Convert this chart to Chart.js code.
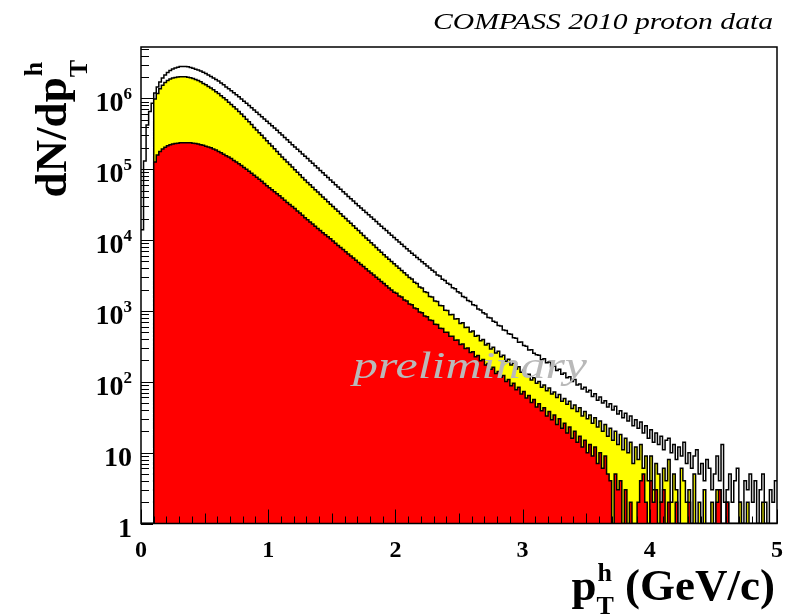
<!DOCTYPE html>
<html>
<head>
<meta charset="utf-8">
<script src="https://cdn.jsdelivr.net/npm/chart.js@4.4.0/dist/chart.umd.min.js"></script>
<style>
  html, body { margin: 0; padding: 0; background: #fff; }
</style>
</head>
<body>
<canvas id="chartPt" width="787" height="614"></canvas>
<script>
// pT spectrum, 250 bins of 0.02 GeV/c from 0 to 5
const bin_width = 0.02;
const x_min = 0, x_max = 5;
const y_min = 1, y_max = 5.3e6;

// all hadrons (open histogram)
const counts_all = [
    14000, 130000, 420000, 650000, 850000, 1.19e6, 1.45e6, 1.70e6, 1.93e6, 2.14e6,
    2.32e6, 2.47e6, 2.59e6, 2.68e6, 2.75e6, 2.81e6, 2.82e6, 2.81e6, 2.78e6, 2.72e6,
    2.65e6, 2.58e6, 2.51e6, 2.43e6, 2.33e6, 2.24e6, 2.14e6, 2.04e6, 1.94e6, 1.85e6,
    1.75e6, 1.65e6, 1.55e6, 1.45e6, 1.36e6, 1.28e6, 1.20e6, 1.12e6, 1.05e6, 977000,
    912000, 851000, 794000, 738000, 685000, 637000, 592000, 550000, 511000, 474000,
    441000, 409000, 380000, 353000, 328000, 304000, 281000, 260000, 240000, 222000,
    206000, 191000, 178000, 164000, 152000, 141000, 130000, 121000, 112000, 104000,
    96200, 89100, 82400, 76200, 70500, 65200, 60400, 56000, 51900, 48100,
    44600, 41300, 38300, 35500, 32900, 30500, 28300, 26300, 24400, 22700,
    21100, 19600, 18200, 16900, 15700, 14600, 13600, 12600, 11700, 10900,
    10100, 9380, 8710, 8090, 7520, 7000, 6530, 6100, 5690, 5310,
    4950, 4620, 4320, 4030, 3760, 3550, 3220, 3100, 2800, 2690,
    2460, 2360, 2120, 2050, 1860, 1790, 1600, 1550, 1400, 1360,
    1220, 1190, 1060, 1030, 940, 905, 810, 795, 712, 690,
    622, 610, 540, 530, 478, 470, 418, 410, 362, 365,
    325, 318, 280, 284, 252, 240, 236, 205, 212, 186,
    190, 162, 166, 144, 150, 128, 133, 114, 118, 101,
    108, 90, 93, 79, 84, 72, 76, 62, 68, 55,
    61, 50, 54, 44, 49, 40, 45, 35, 39, 31,
    36, 28, 33, 24, 29, 22, 27, 19, 24, 16,
    21, 14, 19, 13, 17, 11, 15, 16, 10, 13,
    8, 12, 9, 14, 7, 10, 6, 9, 11, 5,
    7, 4, 8, 6, 3, 5, 9, 4, 13, 2,
    3, 5, 2, 4, 6, 2, 1, 4, 3, 5,
    2, 4, 1, 3, 5, 2, 1, 3, 2, 4
];

// selected sample (yellow)
const counts_yellow = [
    0, 0, 0, 0, 0, 977000, 1.17e6, 1.36e6, 1.53e6, 1.67e6,
    1.79e6, 1.87e6, 1.93e6, 1.97e6, 2.00e6, 2.02e6, 2.02e6, 2.01e6, 1.99e6, 1.95e6,
    1.91e6, 1.84e6, 1.78e6, 1.71e6, 1.62e6, 1.55e6, 1.47e6, 1.40e6, 1.32e6, 1.24e6,
    1.17e6, 1.09e6, 1.02e6, 951000, 883000, 820000, 762000, 708000, 652000, 600000,
    552000, 508000, 468000, 427000, 389000, 356000, 328000, 302000, 275000, 251000,
    230000, 212000, 195000, 178000, 162000, 149000, 137000, 126000, 116000, 107000,
    98200, 90400, 83200, 76600, 70500, 65000, 60100, 55600, 51400, 47500,
    44000, 40600, 37600, 34800, 32100, 29700, 27500, 25400, 23500, 21700,
    20100, 18600, 17200, 15900, 14700, 13600, 12600, 11600, 10700, 9930,
    9180, 8490, 7850, 7260, 6710, 6220, 5780, 5370, 4990, 4630,
    4310, 4000, 3720, 3450, 3210, 2950, 2820, 2530, 2430, 2170,
    2100, 1870, 1820, 1600, 1570, 1380, 1360, 1190, 1180, 1020,
    1010, 880, 890, 770, 775, 665, 680, 585, 590, 505,
    520, 440, 450, 380, 395, 330, 348, 290, 306, 255,
    270, 225, 236, 195, 208, 172, 183, 152, 163, 136,
    145, 120, 128, 106, 114, 95, 101, 84, 90, 75,
    82, 67, 72, 60, 66, 53, 58, 48, 53, 42,
    47, 38, 43, 33, 38, 30, 34, 26, 31, 23,
    28, 20, 25, 17, 22, 15, 20, 13, 18, 11,
    16, 10, 14, 7, 12, 8, 13, 6, 9, 4,
    9, 3, 7, 5, 2, 6, 4, 8, 2, 5,
    3, 1, 6, 4, 2, 3, 0, 5, 1, 2,
    0, 3, 1, 0, 2, 0, 3, 3, 0, 0,
    2, 0, 0, 1, 0, 2, 0, 0, 2, 0,
    0, 1, 0, 0, 2, 0, 0, 0, 0, 0
];

// subsample (red)
const counts_red = [
    0, 0, 0, 0, 0, 126000, 158000, 178000, 193000, 204000,
    214000, 221000, 226000, 230000, 233000, 236000, 237000, 237000, 237000, 236000,
    233000, 230000, 226000, 222000, 217000, 211000, 205000, 200000, 193000, 186000,
    178000, 170000, 162000, 155000, 148000, 141000, 133000, 126000, 119000, 113000,
    106000, 99500, 93300, 87500, 82000, 76900, 72100, 67600, 62800, 58300,
    54500, 51100, 47900, 44900, 42100, 39300, 36500, 33900, 31800, 29800,
    27800, 25800, 24000, 22300, 20700, 19300, 18000, 16800, 15700, 14600,
    13600, 12700, 11900, 11100, 10400, 9660, 9020, 8410, 7850, 7330,
    6840, 6380, 5960, 5560, 5190, 4840, 4520, 4220, 3940, 3670,
    3430, 3200, 2990, 2790, 2600, 2430, 2260, 2110, 1970, 1840,
    1780, 1620, 1570, 1420, 1380, 1250, 1220, 1100, 1070, 962,
    945, 845, 830, 742, 730, 648, 642, 570, 566, 498,
    500, 438, 440, 385, 388, 336, 341, 296, 300, 258,
    266, 226, 234, 198, 206, 172, 181, 150, 160, 131,
    140, 116, 123, 101, 108, 88, 95, 77, 84, 67,
    73, 59, 64, 51, 56, 44, 49, 39, 43, 33,
    38, 29, 34, 25, 30, 22, 26, 19, 23, 16,
    20, 14, 17, 12, 15, 10, 13, 9, 12, 7,
    10, 6, 9, 5, 4, 1, 5, 3, 4, 1,
    3, 1, 2, 1, 0, 2, 4, 5, 2, 1,
    4, 2, 3, 1, 2, 3, 1, 2, 0, 1,
    2, 0, 1, 0, 0, 2, 0, 1, 0, 0,
    0, 0, 1, 0, 0, 0, 2, 3, 0, 0,
    2, 0, 0, 0, 0, 0, 0, 0, 0, 0,
    0, 0, 0, 0, 0, 0, 0, 0, 0, 0
];

const x_tick_labels = ['0', '1', '2', '3', '4', '5'];
const y_tick_values = [1, 10, 1e2, 1e3, 1e4, 1e5, 1e6];
const y_tick_labels = [['1', ''], ['10', ''], ['10', '2'], ['10', '3'], ['10', '4'], ['10', '5'], ['10', '6']];

const serif = '"Liberation Serif", "Times New Roman", serif';

// bin contents -> step points at the left edge of each bin; empty bins sit on the axis floor
function histo_points(counts) {
    const pts = counts.map((v, i) => ({ x: i * bin_width, y: Math.max(v, y_min) }));
    pts.push({ x: x_max, y: Math.max(counts[counts.length - 1], y_min) });
    return pts;
}

function stretched_text(ctx, txt, font, left, base, width) {
    ctx.font = font;
    const w = ctx.measureText(txt).width;
    ctx.save();
    ctx.translate(left, base);
    ctx.scale(width / w, 1);
    ctx.textAlign = 'left';
    ctx.fillText(txt, 0, 0);
    ctx.restore();
}

// "p" with h on top and T below, followed by an optional tail
function pt_symbol(ctx, main, tail, big, small, supShift, subShift) {
    ctx.font = 'bold ' + big + 'px ' + serif;
    const wMain = ctx.measureText(main).width;
    const wTail = ctx.measureText(tail).width;
    ctx.font = 'bold ' + small + 'px ' + serif;
    const wIdx = Math.max(ctx.measureText('h').width, ctx.measureText('T').width);
    const total = wMain + wIdx + wTail;
    let x = -total;
    ctx.textAlign = 'left';
    ctx.font = 'bold ' + big + 'px ' + serif;
    ctx.fillText(main, x, 0);
    x += wMain;
    ctx.font = 'bold ' + small + 'px ' + serif;
    ctx.fillText('h', x + 1, -supShift);
    ctx.fillText('T', x, subShift);
    x += wIdx;
    ctx.font = 'bold ' + big + 'px ' + serif;
    ctx.fillText(tail, x, 0);
}

const frame_and_labels = {
    id: 'frameAndLabels',
    afterDatasetsDraw(chart) {
        const ctx = chart.ctx;
        const xs = chart.scales.x, ys = chart.scales.y;
        const a = chart.chartArea;
        ctx.save();
        ctx.strokeStyle = '#000';
        ctx.fillStyle = '#000';

        // ticks on the x axis (0.1 steps, longer at halves and units)
        ctx.lineWidth = 1;
        ctx.beginPath();
        for (let k = 0; k <= 50; k++) {
            const px = Math.round(xs.getPixelForValue(k / 10)) + 0.5;
            const len = k % 10 === 0 ? 14 : (k % 5 === 0 ? 10 : 7);
            ctx.moveTo(px, a.bottom);
            ctx.lineTo(px, a.bottom - len);
        }
        // ticks on the log y axis
        for (let d = 0; d <= 6; d++) {
            for (let m = 1; m <= 9; m++) {
                const v = m * Math.pow(10, d);
                if (v > y_max) break;
                const py = Math.round(ys.getPixelForValue(v)) + 0.5;
                ctx.moveTo(a.left, py);
                ctx.lineTo(a.left + (m === 1 ? 12 : 8), py);
            }
        }
        ctx.stroke();

        // frame
        ctx.lineWidth = 1.5;
        ctx.strokeRect(a.left, a.top, a.right - a.left, a.bottom - a.top);

        // x tick labels
        ctx.font = 'bold 24px ' + serif;
        ctx.textAlign = 'center';
        ctx.textBaseline = 'alphabetic';
        x_tick_labels.forEach((t, i) => {
            ctx.fillText(t, xs.getPixelForValue(i), 557);
        });

        // y tick labels: 1, 10, 10^n
        y_tick_values.forEach((v, i) => {
            const py = ys.getPixelForValue(v);
            const [base, exp] = y_tick_labels[i];
            ctx.textAlign = 'right';
            let right = 132;
            if (exp) {
                ctx.font = 'bold 17px ' + serif;
                ctx.fillText(exp, right, py + 1);
                right -= ctx.measureText(exp).width;
            }
            ctx.font = 'bold 28px ' + serif;
            ctx.fillText(base, right, py + 13);
        });

        // axis titles
        ctx.save();
        ctx.translate(775, 600);
        pt_symbol(ctx, 'p', ' (GeV/c)', 45, 26, 19, 14);
        ctx.restore();

        ctx.save();
        ctx.translate(66, 60);
        ctx.rotate(-Math.PI / 2);
        pt_symbol(ctx, 'dN/dp', '', 45, 26, 24, 21);
        ctx.restore();

        // title and watermark
        stretched_text(ctx, 'COMPASS 2010 proton data', 'italic 24px ' + serif, 433, 29, 340);
        ctx.fillStyle = '#b9b9b9';
        stretched_text(ctx, 'preliminary', 'italic 38px ' + serif, 353, 378, 234);
        ctx.restore();
    }
};

function render_pt_spectrum() {
    const ctx = document.getElementById('chartPt').getContext('2d');
    new Chart(ctx, {
        type: 'line',
        data: {
            datasets: [
                {
                    data: histo_points(counts_red),
                    stepped: 'before',
                    borderColor: '#000',
                    borderWidth: 1.5,
                    backgroundColor: '#ff0000',
                    fill: 'start',
                    order: 1
                },
                {
                    data: histo_points(counts_yellow),
                    stepped: 'before',
                    borderColor: '#000',
                    borderWidth: 1.5,
                    backgroundColor: '#ffff00',
                    fill: 'start',
                    order: 2
                },
                {
                    data: histo_points(counts_all),
                    stepped: 'before',
                    borderColor: '#000',
                    borderWidth: 1.5,
                    fill: false,
                    order: 3
                }
            ]
        },
        options: {
            responsive: false,
            animation: false,
            layout: { padding: { left: 141, right: 10, top: 47, bottom: 90.5 } },
            elements: { point: { radius: 0 }, line: { tension: 0 } },
            plugins: {
                legend: { display: false },
                tooltip: { enabled: false }
            },
            scales: {
                x: { type: 'linear', min: x_min, max: x_max, display: false },
                y: { type: 'logarithmic', min: y_min, max: y_max, display: false }
            }
        },
        plugins: [frame_and_labels]
    });
}

render_pt_spectrum();
</script>
</body>
</html>
